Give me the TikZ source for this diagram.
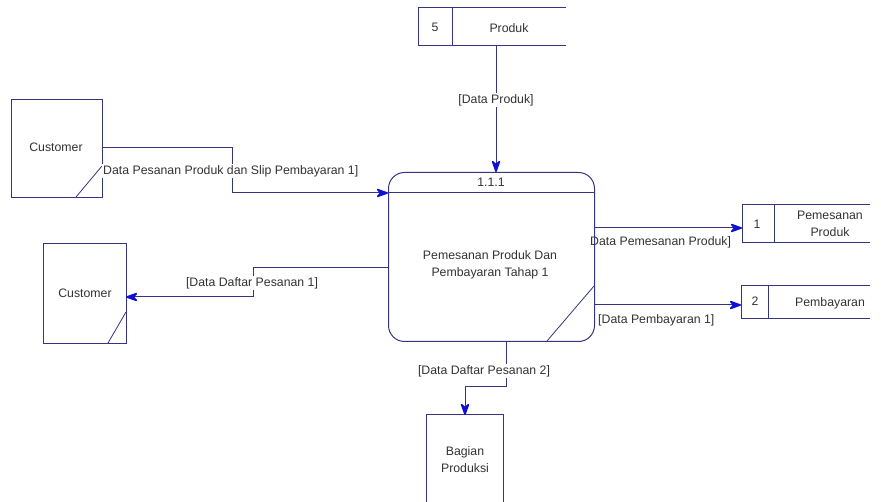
\documentclass[tikz,border=0pt]{standalone}
\usepackage{fontspec}
\setmainfont{Liberation Sans}
\usetikzlibrary{arrows.meta}
\definecolor{edge}{RGB}{52,52,128}
\definecolor{tip}{RGB}{15,15,215}
\definecolor{ink}{RGB}{50,50,50}
\begin{document}
\begin{tikzpicture}[x=1pt,y=-1pt,
  every node/.style={font=\fontsize{12.3}{17}\selectfont,text=ink},
  box/.style={draw=edge,line width=1pt,inner sep=0pt,anchor=north west},
  thin edge/.style={draw=edge,line width=0.8pt},
  flow/.style={draw=edge,line width=1pt,
    -{Stealth[length=14pt,width=10pt,inset=4pt,color=tip,line width=1.5pt,round]}},
  lbl/.style={fill=white,inner sep=1pt},
  txt/.style={inner sep=0pt,align=center}]
\useasboundingbox (0,0) rectangle (881,502);

% external entities
\node[box,minimum width=91pt,minimum height=98pt] (cust1) at (11,99) {};
\node[txt] at (56,147) {Customer};
\draw[thin edge] (76,197) -- (102,166);

\node[box,minimum width=83pt,minimum height=100pt] (cust2) at (43,243) {};
\node[txt] at (85,293) {Customer};
\draw[thin edge] (108,343) -- (126,312);

% receiving unit, cut at the lower border
\coordinate (bp) at (465,415);
\draw[edge,line width=1pt] (426,502) -- (426,415) -- (503,415) -- (503,502);
\node[txt] (bagian) at (465,460) {Bagian\\Produksi};

% data stores (open on the right)
\draw[edge,line width=1pt] (566,8) -- (418,8) -- (418,46) -- (566,46) (452,8) -- (452,46);
\node[txt] (s5) at (435,27) {5};
\node[txt] (produk) at (509,28) {Produk};
\coordinate (s5out) at (496,46);

\draw[edge,line width=1pt] (870,205) -- (742,205) -- (742,243) -- (870,243) (774,205) -- (774,243);
\node[txt] (s1) at (757,224) {1};
\node[txt] (pem) at (830,224) {Pemesanan\\Produk};
\coordinate (s1in) at (742,228);

\draw[edge,line width=1pt] (870,286) -- (741,286) -- (741,319) -- (870,319) (768,286) -- (768,319);
\node[txt] (s2) at (755,301) {2};
\node[txt] (bay) at (830,303) {Pembayaran};
\coordinate (s2in) at (741,305);

% flow labels beside the process
\node[inner sep=0pt,anchor=west] (l3) at (590,242) {Data Pemesanan Produk]};
\node[inner sep=0pt,anchor=west] (l6) at (598,320) {[Data Pembayaran 1]};

% process
\node[box,rounded corners=16pt,minimum width=206pt,minimum height=169pt] (proc) at (388,172) {};
\draw[edge,line width=1pt] (388,193) -- (594,193);
\node[txt] (pid) at (491,182) {1.1.1};
\node[txt] (pname) at (490,265) {Pemesanan Produk Dan\\Pembayaran Tahap 1};
\draw[thin edge] (547,341) -- (594,286);

% data flows
\coordinate (p1) at (388,193);
\coordinate (p2) at (388,268);
\coordinate (p3) at (594,228);
\coordinate (p4) at (594,305);
\coordinate (p5) at (506,341);
\coordinate (k1) at (232,148);
\coordinate (k2) at (253,297);
\coordinate (k3) at (506,387);
\coordinate (c1) at (102,148);
\coordinate (c2) at (126,297);
\coordinate (ptop) at (496,172);

\path[flow] (c1) -- (k1) |- (p1);
\path[flow] (s5out) -- (ptop);
\path[flow] (p2) -| (k2) -- (c2);
\path[flow] (p3) -- (s1in);
\path[flow] (p4) -- (s2in);
\path[flow] (p5) -- (k3) -| (bp);

% labels drawn over the lines they name
\node[lbl,anchor=west] (l1) at (102,171) {Data Pesanan Produk dan Slip Pembayaran 1]};
\node[lbl] (l2) at (496,100) {[Data Produk]};
\node[lbl] (l4) at (252,283) {[Data Daftar Pesanan 1]};
\node[lbl] (l5) at (484,371) {[Data Daftar Pesanan 2]};
\end{tikzpicture}
\end{document}
